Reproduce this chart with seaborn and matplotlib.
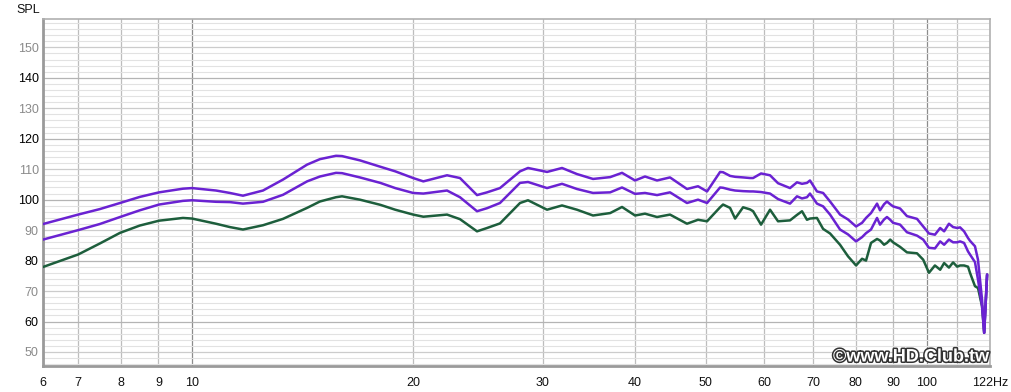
import numpy as np
import pandas as pd
import matplotlib
matplotlib.use("Agg")
import matplotlib.pyplot as plt
import matplotlib.patheffects as pe
from matplotlib.ticker import NullFormatter
import seaborn as sns

# ---- data ----
freq_hz = [6.27, 7.0, 7.49, 7.98, 8.49, 9.02, 9.72, 10.0, 10.78, 11.26, 11.73, 12.49, 13.30,
           14.34, 14.93, 15.70, 16.0, 16.92, 18.04, 18.9, 19.99, 20.64, 22.23, 23.15, 24.42,
           25.20, 26.24, 27.94, 28.65, 30.41, 31.87, 33.40, 35.12, 37.06, 38.46, 40.06, 41.33,
           42.92, 44.70, 47.14, 48.80, 50.20, 52.29, 52.78, 53.95, 54.81, 56.20, 57.44, 57.99,
           59.45, 61.15, 62.70, 65.10, 66.54, 67.59, 68.65, 69.30, 70.83, 72.21, 73.80, 76.14,
           78.07, 80.06, 81.58, 82.6, 83.9, 85.5, 86.3, 87.4, 88.2, 89.1, 89.9, 91.9, 93.9,
           96.9, 98.8, 100.6, 102.5, 104.2, 105.5, 107.1, 108.5, 109.9, 110.9, 112.3, 113.7,
           114.4, 116.2, 117.3, 118.8, 119.6, 120.7]

spl_top = [92.0, 95.1, 96.9, 98.9, 100.9, 102.4, 103.6, 103.8, 103.0, 102.2, 101.3, 103.0, 106.6,
           111.5, 113.3, 114.4, 114.3, 112.9, 110.8, 109.3, 107.1, 106.0, 108.0, 107.1, 101.5,
           102.4, 103.8, 109.3, 110.4, 109.1, 110.4, 108.4, 106.8, 107.4, 108.8, 106.3, 107.6,
           106.3, 107.3, 103.5, 104.4, 102.7, 109.1, 109.0, 107.8, 107.5, 107.3, 107.1, 107.1,
           108.6, 108.0, 105.4, 103.8, 105.7, 105.2, 105.5, 106.3, 102.7, 102.2, 99.4, 95.1,
           93.5, 91.2, 92.4, 94.0, 95.6, 98.7, 96.5, 98.5, 99.4, 98.5, 97.8, 97.1, 94.6,
           93.7, 91.2, 88.9, 88.5, 90.7, 89.6, 92.1, 91.0, 90.7, 90.9, 89.6, 87.4,
           86.5, 84.7, 80.3, 67.2, 56.3, 75.4]

spl_mid = [86.9, 90.0, 92.0, 94.3, 96.5, 98.4, 99.6, 99.8, 99.3, 99.2, 98.7, 99.3, 101.6,
           106.0, 107.6, 108.8, 108.7, 107.3, 105.5, 103.8, 102.2, 102.0, 103.0, 100.8, 96.2,
           97.2, 98.9, 105.5, 105.8, 103.8, 105.2, 103.5, 102.2, 102.4, 104.0, 101.9, 102.2,
           101.5, 102.4, 98.9, 100.0, 98.9, 104.0, 103.9, 103.3, 103.0, 102.8, 102.7, 102.7,
           102.5, 102.0, 100.2, 98.7, 101.1, 100.4, 100.8, 102.0, 98.7, 97.8, 95.1, 90.2,
           88.6, 86.3, 87.7, 89.0, 90.2, 94.0, 91.8, 93.5, 94.3, 93.4, 92.4, 91.8, 89.3,
           88.2, 86.9, 84.2, 84.0, 86.3, 85.2, 86.9, 86.0, 86.0, 86.3, 85.8, 83.0,
           82.0, 79.5, 73.8, 65.0, 56.3, 75.4]

spl_low = [77.9, 82.0, 85.6, 89.1, 91.5, 93.1, 94.0, 93.8, 92.1, 91.0, 90.2, 91.6, 93.7,
           97.3, 99.4, 100.8, 101.1, 100.0, 98.3, 96.7, 95.1, 94.4, 95.1, 93.6, 89.6,
           90.7, 92.2, 98.9, 99.8, 96.7, 98.1, 96.7, 94.8, 95.6, 97.6, 94.8, 95.4,
           94.3, 95.1, 92.1, 93.4, 92.9, 97.5, 98.4, 97.3, 93.8, 97.5, 96.8, 96.2,
           91.8, 96.7, 92.9, 93.2, 95.0, 96.2, 93.4, 93.8, 94.0, 90.4, 88.9, 85.2,
           81.4, 78.4, 80.6, 80.0, 85.8, 87.1, 86.6, 85.2, 85.8, 86.9, 86.0, 84.5, 82.7,
           82.4, 80.3, 76.0, 78.4, 77.0, 79.2, 77.7, 79.4, 78.0, 78.4, 78.4, 78.0,
           76.0, 71.6, 71.0, 65.0, 56.3, 75.4]

x_ticks = [6.27, 7, 8, 9, 10, 20, 30, 40, 50, 60, 70, 80, 90, 100, 121.8]
x_labels = ["6", "7", "8", "9", "10", "20", "30", "40", "50", "60", "70", "80", "90", "100", "122Hz"]
y_ticks = [50, 60, 70, 80, 90, 100, 110, 120, 130, 140, 150]

palette = {"top": "#6a22d2", "mid": "#6a22d2", "low": "#1d5e3c"}

df = pd.concat([
    pd.DataFrame({"freq": freq_hz, "spl": spl_low, "curve": "low"}),
    pd.DataFrame({"freq": freq_hz, "spl": spl_mid, "curve": "mid"}),
    pd.DataFrame({"freq": freq_hz, "spl": spl_top, "curve": "top"}),
], ignore_index=True)

sns.set_style("white")
plt.rcParams["font.family"] = ["Liberation Sans", "DejaVu Sans"]

fig = plt.figure(figsize=(10.12, 3.92), dpi=100)
ax = fig.add_axes([43 / 1012, 26 / 392, 947 / 1012, 347 / 392])

sns.lineplot(data=df, x="freq", y="spl", hue="curve", palette=palette,
             hue_order=["low", "mid", "top"], linewidth=1.8, ax=ax,
             legend=False, estimator=None, sort=False, zorder=3)

ax.set_xscale("log")
ax.set_xlim(6.27, 121.8)
ax.set_ylim(45.4, 159.3)

# grid
ax.set_xticks(x_ticks)
ax.set_xticklabels(x_labels)
ax.set_xticks([110], minor=True)
ax.xaxis.set_minor_formatter(NullFormatter())
ax.set_yticks(y_ticks)
ax.set_yticks(np.arange(46, 160, 2), minor=True)
ax.yaxis.set_minor_formatter(NullFormatter())
ax.tick_params(axis="both", which="both", length=0)
ax.tick_params(axis="x", labelsize=9, pad=8, colors="#111111")
ax.tick_params(axis="y", labelsize=9, pad=3)
ax.grid(True, which="major", axis="both", linewidth=0.9)
ax.grid(True, which="minor", axis="y", color="#e2e2e2", linewidth=0.8)
ax.grid(True, which="minor", axis="x", color="#c0c0c0", linewidth=0.9)
ax.set_axisbelow(True)

for t, v in zip(ax.xaxis.get_major_ticks(), x_ticks):
    t.gridline.set_color("#8c8c8c" if v in (10, 100) else "#bdbdbd")
for t, v in zip(ax.yaxis.get_major_ticks(), y_ticks):
    t.gridline.set_color("#b4b4b4" if v % 20 == 0 else "#cccccc")
for lab, v in zip(ax.get_yticklabels(), y_ticks):
    lab.set_color("#000000" if v % 20 == 0 else "#8a8a8a")

ax.set_xlabel("")
ax.set_ylabel("")

for side in ["top", "right"]:
    ax.spines[side].set_color("#b0b0b0")
    ax.spines[side].set_linewidth(1.2)
for side in ["left", "bottom"]:
    ax.spines[side].set_color("#9a9a9a")
    ax.spines[side].set_linewidth(2.0)

fig.text(28 / 1012, 1 - 10 / 392, "SPL", ha="center", va="center", fontsize=9, color="#111111")

wm = fig.text(989 / 1012, 1 - 357 / 392, "©www.HD.Club.tw", ha="right", va="center",
              fontsize=13, fontweight="bold", color="white", zorder=10)
wm.set_path_effects([pe.Stroke(linewidth=2.2, foreground="#333333"), pe.Normal()])

fig.savefig("out.png", dpi=100, facecolor="white")
